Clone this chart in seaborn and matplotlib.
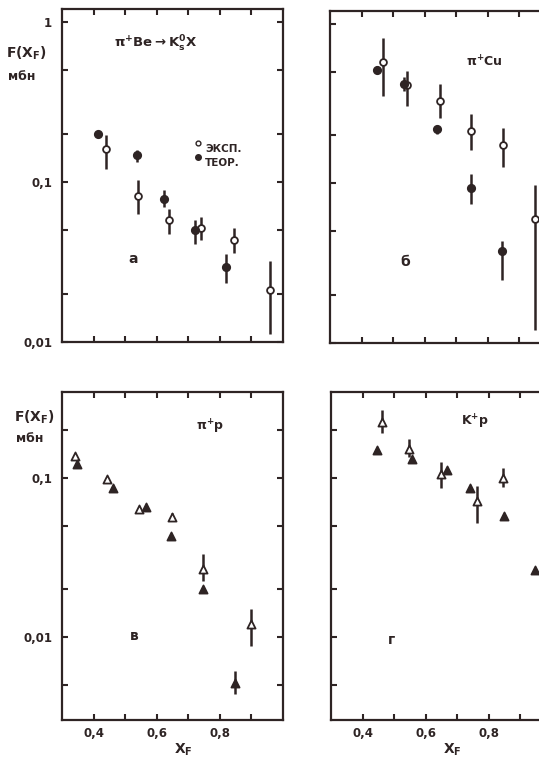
import numpy as np
import matplotlib
matplotlib.use('Agg')
import matplotlib.pyplot as plt
import seaborn as sns

# --- data ---
# panel a: pi+ Be -> K0s X
be_exp_x = [0.44, 0.54, 0.64, 0.74, 0.845, 0.96]
be_exp_y = [0.161, 0.0815, 0.0574, 0.0513, 0.0435, 0.0212]
be_exp_lo = [0.121, 0.0632, 0.0473, 0.0435, 0.0359, 0.0112]
be_exp_hi = [0.196, 0.102, 0.068, 0.060, 0.0513, 0.0322]
be_th_x = [0.413, 0.536, 0.624, 0.721, 0.821]
be_th_y = [0.198, 0.148, 0.0785, 0.0497, 0.0292]
be_th_lo = [0.19, 0.133, 0.0695, 0.041, 0.0232]
be_th_hi = [0.207, 0.157, 0.0885, 0.0574, 0.0354]

# panel b: pi+ Cu
cu_exp_x = [0.469, 0.544, 0.648, 0.748, 0.848, 0.949]
cu_exp_y = [0.579, 0.41, 0.33, 0.214, 0.174, 0.060]
cu_exp_lo = [0.35, 0.303, 0.256, 0.161, 0.126, 0.012]
cu_exp_hi = [0.81, 0.508, 0.42, 0.273, 0.223, 0.097]
cu_th_x = [0.448, 0.535, 0.640, 0.748, 0.846]
cu_th_y = [0.516, 0.42, 0.2175, 0.0935, 0.0378]
cu_th_lo = [0.49, 0.38, 0.205, 0.074, 0.0248]
cu_th_hi = [0.54, 0.46, 0.23, 0.115, 0.0436]

# panel v: pi+ p
pp_exp_x = [0.341, 0.441, 0.545, 0.647, 0.747, 0.900]
pp_exp_y = [0.137, 0.098, 0.0636, 0.0563, 0.0267, 0.0120]
pp_exp_lo = [0.137, 0.098, 0.0636, 0.053, 0.0225, 0.00877]
pp_exp_hi = [0.137, 0.098, 0.0636, 0.060, 0.0331, 0.0149]
pp_th_x = [0.348, 0.460, 0.565, 0.644, 0.747, 0.847]
pp_th_y = [0.122, 0.0861, 0.065, 0.0428, 0.020, 0.00516]
pp_th_lo = [0.122, 0.0861, 0.065, 0.0428, 0.020, 0.00435]
pp_th_hi = [0.122, 0.0861, 0.065, 0.0428, 0.020, 0.0061]

# panel g: K+ p
kp_exp_x = [0.462, 0.548, 0.647, 0.763, 0.845]
kp_exp_y = [0.223, 0.151, 0.105, 0.0716, 0.100]
kp_exp_lo = [0.190, 0.134, 0.0857, 0.0516, 0.0869]
kp_exp_hi = [0.264, 0.175, 0.125, 0.089, 0.115]
kp_th_x = [0.445, 0.555, 0.666, 0.740, 0.848, 0.946]
kp_th_y = [0.149, 0.130, 0.112, 0.0861, 0.0571, 0.0263]

x_ticks = [0.4, 0.5, 0.6, 0.7, 0.8, 0.9]
x_labels = ['0,4', '', '0,6', '', '0,8', '']

INK = '#2e2424'
W, H = 539, 762

sns.set_theme(style='ticks')
plt.rcParams['font.family'] = ['DejaVu Sans']
plt.rcParams['mathtext.default'] = 'regular'

fig = plt.figure(figsize=(W / 100, H / 100), dpi=100)
fig.patch.set_facecolor('white')


def px(x, y):
    return x / W, 1 - y / H


def make_ax(left_px, top_px, bottom_px, ylim, majors, minors, ylabels, bottom_row):
    ax = fig.add_axes([left_px / W, 1 - bottom_px / H, 221 / W, (bottom_px - top_px) / H])
    ax.set_yscale('log')
    ax.set_xlim(0.3, 1.0)
    ax.set_ylim(*ylim)
    for s in ax.spines.values():
        s.set_color(INK)
        s.set_linewidth(1.6)
    ax.set_xticks(x_ticks)
    if bottom_row:
        ax.set_xticklabels(x_labels)
    else:
        ax.set_xticklabels([])
    ax.set_yticks(majors)
    ax.set_yticks(minors, minor=True)
    ax.set_yticklabels(ylabels if ylabels else [''] * len(majors))
    ax.yaxis.set_minor_formatter(matplotlib.ticker.NullFormatter())
    ax.tick_params(which='both', direction='in', top=True, right=True, length=4.5,
                   width=1.5, color=INK, labelcolor=INK, labelsize=8.5)
    ax.tick_params(axis='y', pad=7)
    ax.tick_params(axis='x', pad=5)
    for lab in ax.get_xticklabels() + ax.get_yticklabels():
        lab.set_fontweight('bold')
    ax.grid(False)
    return ax


def draw(ax, x, y, lo, hi, marker, filled, size):
    y = np.array(y)
    if lo is not None:
        err = [y - np.array(lo), np.array(hi) - y]
        ax.errorbar(x, y, yerr=err, fmt='none', ecolor=INK, elinewidth=1.8, capsize=0, zorder=2)
    sns.scatterplot(x=x, y=y, ax=ax, marker=marker, s=size,
                    color=INK if filled else 'white', edgecolor=INK, linewidth=1.3,
                    zorder=3, legend=False)


top_lim = (0.01, 1.2)
bot_lim = (0.003, 0.345)
ax_a = make_ax(62, 9, 342, top_lim, [0.01, 0.1, 1], [0.02, 0.05, 0.2, 0.5], ['0,01', '0,1', '1'], False)
ax_b = make_ax(330, 11, 343, top_lim, [0.01, 0.1, 1], [0.02, 0.05, 0.2, 0.5], None, False)
ax_v = make_ax(62, 392, 720, bot_lim, [0.01, 0.1], [0.005, 0.02, 0.05, 0.2], ['0,01', '0,1'], True)
ax_g = make_ax(331, 392, 720, bot_lim, [0.01, 0.1], [0.005, 0.02, 0.05, 0.2], None, True)

draw(ax_a, be_exp_x, be_exp_y, be_exp_lo, be_exp_hi, 'o', False, 24)
draw(ax_a, be_th_x, be_th_y, be_th_lo, be_th_hi, 'o', True, 28)
draw(ax_b, cu_exp_x, cu_exp_y, cu_exp_lo, cu_exp_hi, 'o', False, 24)
draw(ax_b, cu_th_x, cu_th_y, cu_th_lo, cu_th_hi, 'o', True, 28)
draw(ax_v, pp_exp_x, pp_exp_y, pp_exp_lo, pp_exp_hi, '^', False, 34)
draw(ax_v, pp_th_x, pp_th_y, pp_th_lo, pp_th_hi, '^', True, 34)
draw(ax_g, kp_exp_x, kp_exp_y, kp_exp_lo, kp_exp_hi, '^', False, 34)
draw(ax_g, kp_th_x, kp_th_y, None, None, '^', True, 34)

for ax in (ax_v, ax_g):
    ax.set_xlabel('X$_F$', fontsize=10, fontweight='bold', color=INK, labelpad=2)
    ax.xaxis.set_label_coords(0.55, -0.065)

txt = dict(color=INK, fontweight='bold', ha='left', va='center')
# y-axis titles
fig.text(*px(6, 53), 'F(X$_F$)', fontsize=10, **txt)
fig.text(*px(8, 76), 'мбн', fontsize=9, **txt)
fig.text(*px(14, 417), 'F(X$_F$)', fontsize=10, **txt)
fig.text(*px(16, 438), 'мбн', fontsize=9, **txt)

# panel titles
fig.text(*px(114, 44), r'$\pi^{+}$Be$\rightarrow$K$^{0}_{s}$X', fontsize=9.5, **txt)
fig.text(*px(466, 62), r'$\pi^{+}$Cu', fontsize=9, **txt)
fig.text(*px(196, 427), r'$\pi^{+}$p', fontsize=9, **txt)
fig.text(*px(461, 422), r'K$^{+}$p', fontsize=9, **txt)

# panel letters
fig.text(*px(128, 259), 'а', fontsize=10, **txt)
fig.text(*px(400, 262), 'б', fontsize=10, **txt)
fig.text(*px(130, 636), 'в', fontsize=10, **txt)
fig.text(*px(388, 640), 'г', fontsize=10, **txt)

# legend in panel a
ax_a.scatter([0.732], [0.175], marker='o', s=12, facecolor='white', edgecolor=INK, linewidth=1.0)
ax_a.scatter([0.732], [0.143], marker='o', s=16, facecolor=INK, edgecolor=INK, linewidth=1.0)
fig.text(*px(205, 149), 'ЭКСП.', fontsize=7.5, **txt)
fig.text(*px(205, 163), 'ТЕОР.', fontsize=7.5, **txt)

fig.savefig('out.png', dpi=100, facecolor='white')
